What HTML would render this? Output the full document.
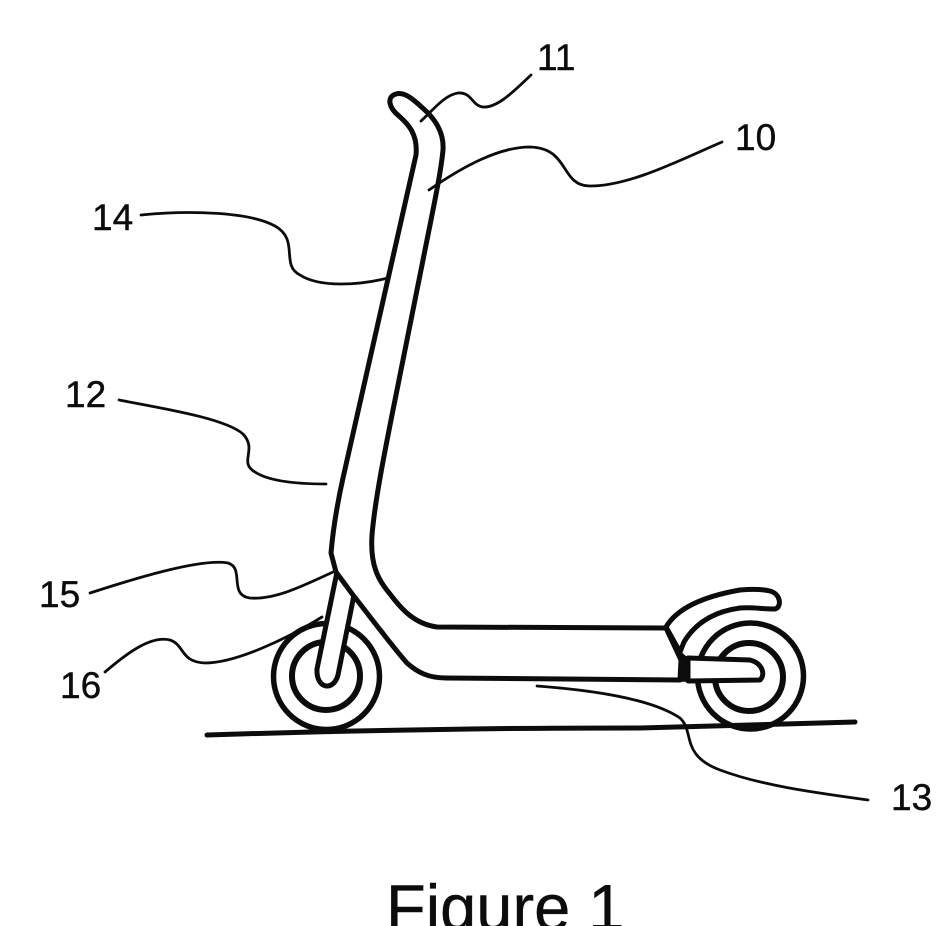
<!DOCTYPE html>
<html><head><meta charset="utf-8">
<style>html,body{margin:0;padding:0;background:#fff;overflow:hidden}svg{display:block}</style></head>
<body>
<svg width="950" height="926" viewBox="0 0 950 926" xmlns="http://www.w3.org/2000/svg">
<rect width="950" height="926" fill="#fff"/>
<g fill="none" stroke="#0c0c0c" stroke-linecap="round" stroke-linejoin="round">
<!-- wheels -->
<circle cx="326.5" cy="676.5" r="53" stroke-width="5.5"/>
<circle cx="326" cy="676" r="34" stroke-width="6"/>
<circle cx="750.5" cy="676" r="53" stroke-width="5.5"/>
<circle cx="749" cy="677" r="34" stroke-width="6"/>
<!-- ground -->
<path stroke-width="5" d="M207 735 C300 732 400 730 470 729 C540 728 600 728 640 728 C720 726 790 724 855 722"/>
<!-- rear fork / arm -->
<path fill="#fff" stroke-width="5" d="M688 658 L750 660 C762 663 766 674 760 680 L688 681 Z"/>
<path fill="#0c0c0c" stroke-width="1.5" d="M675 681 L675 667 L680 652 L687 658 L688 681 Z"/>
<!-- fender -->
<path fill="#fff" stroke-width="5" d="M666 627 C676 610 700 597 740 590 C752 589 762 589 770 591 C781 594 782 607 775 609 C762 609 752 607 740 608 C718 611 697 620 684 642 L680 652 Z"/>
<!-- front fork -->
<path fill="#fff" stroke-width="5" d="M337 572 L317 669 C316 690 334 691 338 675 L354 595"/>
<!-- body -->
<path fill="#fff" stroke-width="5" d="M336 572 L331 553 C333 530 337 505 343 478 L416 155 C418 134 408 124 399 116 C389 108 386 97 396 94 C406 91 417 103 427 112 C437 122 444 135 443 150 C441 172 433 210 426 245 L395 400 C385 450 375 500 372 535 C370 565 378 580 390 594 C402 610 415 624 437 627 L666 628 L681 660 L680 680 L446 678 C428 678 417 672 407 663 C395 650 365 610 353 595 Z"/>
<!-- leaders -->
<g stroke-width="2.8">
<path d="M531 75 C515 90 498 108 483 107 C472 106 472 92 458 93 C445 95 435 108 421 121"/>
<path d="M722 142 C680 160 630 186 590 186 C560 186 570 148 530 147 C500 147 465 165 429 190"/>
<path d="M141 215 C190 210 250 212 275 226 C300 240 280 265 300 275 C320 288 360 285 388 278"/>
<path d="M119 400 C160 408 225 418 243 434 C258 450 238 462 255 472 C270 482 300 484 326 484"/>
<path d="M90 593 C130 580 200 558 228 563 C245 568 228 595 250 598 C275 600 305 585 333 572"/>
<path d="M105 672 C125 655 150 635 170 640 C185 645 180 662 205 663 C235 663 285 640 322 617"/>
<path d="M537 686 C590 690 650 698 680 718 C695 732 680 755 720 770 C760 785 810 792 868 800"/>
</g>
</g>
<g font-family="'Liberation Sans',sans-serif" font-size="37" fill="#0c0c0c" stroke="#0c0c0c" stroke-width="0.4">
<text x="537" y="70">11</text>
<text x="735" y="150">10</text>
<text x="92" y="230">14</text>
<text x="65" y="407">12</text>
<text x="39" y="607">15</text>
<text x="60" y="698">16</text>
<text x="891" y="810">13</text>
<text x="386" y="930" font-size="65">Figure 1</text>
</g>
</svg>
</body></html>
